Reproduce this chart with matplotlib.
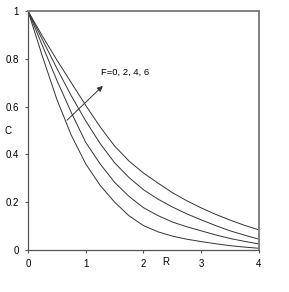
import matplotlib
matplotlib.use('Agg')
import matplotlib.pyplot as plt

plt.rcParams['font.family'] = ['Liberation Sans', 'DejaVu Sans']

# values
R = [0, 0.25, 0.5, 0.75, 1, 1.25, 1.5, 1.75, 2,
     2.25, 2.5, 2.75, 3, 3.25, 3.5, 3.75, 4]
C_F0 = [1, 0.81, 0.63, 0.48, 0.36, 0.27, 0.20, 0.143, 0.102,
        0.076, 0.058, 0.045, 0.035, 0.026, 0.018, 0.012, 0.007]
C_F2 = [1, 0.855, 0.71, 0.575, 0.45, 0.36, 0.283, 0.224, 0.177,
        0.144, 0.117, 0.097, 0.08, 0.063, 0.048, 0.036, 0.025]
C_F4 = [1, 0.88, 0.76, 0.645, 0.54, 0.445, 0.365, 0.303, 0.252,
        0.213, 0.18, 0.151, 0.126, 0.102, 0.08, 0.062, 0.045]
C_F6 = [1, 0.895, 0.795, 0.70, 0.605, 0.515, 0.435, 0.372, 0.322,
        0.28, 0.24, 0.206, 0.176, 0.149, 0.125, 0.103, 0.084]
xticks = [0, 1, 2, 3, 4]
yticks = [0, 0.2, 0.4, 0.6, 0.8, 1]
ytick_labels = ['0', '0.2', '0.4', '0.6', '0.8', '1']

fig = plt.figure(figsize=(2.89, 2.92), dpi=100)
ax = fig.add_axes([0.097, 0.144, 0.799, 0.818])

for c in [C_F0, C_F2, C_F4, C_F6]:
    ax.plot(R, c, color='#333333', lw=0.7)

ax.set_xlim(0, 4)
ax.set_ylim(0, 1)
ax.set_xticks(xticks)
ax.set_xticklabels([str(t) for t in xticks])
ax.set_yticks(yticks)
ax.set_yticklabels(ytick_labels)
ax.tick_params(labelsize=7, length=2.5, width=0.8, color='#555555', pad=4)

for s in ['left', 'bottom']:
    ax.spines[s].set_color('#555555')
    ax.spines[s].set_linewidth(0.9)
for s in ['top', 'right']:
    ax.spines[s].set_color('#808080')
    ax.spines[s].set_linewidth(1.4)

ax.annotate('', xy=(1.33, 0.695), xytext=(0.64, 0.535),
            arrowprops=dict(arrowstyle='-|>', color='#333333', lw=0.7,
                            mutation_scale=8))
ax.text(1.26, 0.745, 'F=0, 2, 4, 6', fontsize=6.8, va='center', ha='left')

fig.text(8 / 289, 1 - 131 / 292, 'C', fontsize=7, ha='center', va='center')
fig.text(166 / 289, 1 - 262 / 292, 'R', fontsize=7, ha='center', va='center')

fig.savefig('out.png', dpi=100)
